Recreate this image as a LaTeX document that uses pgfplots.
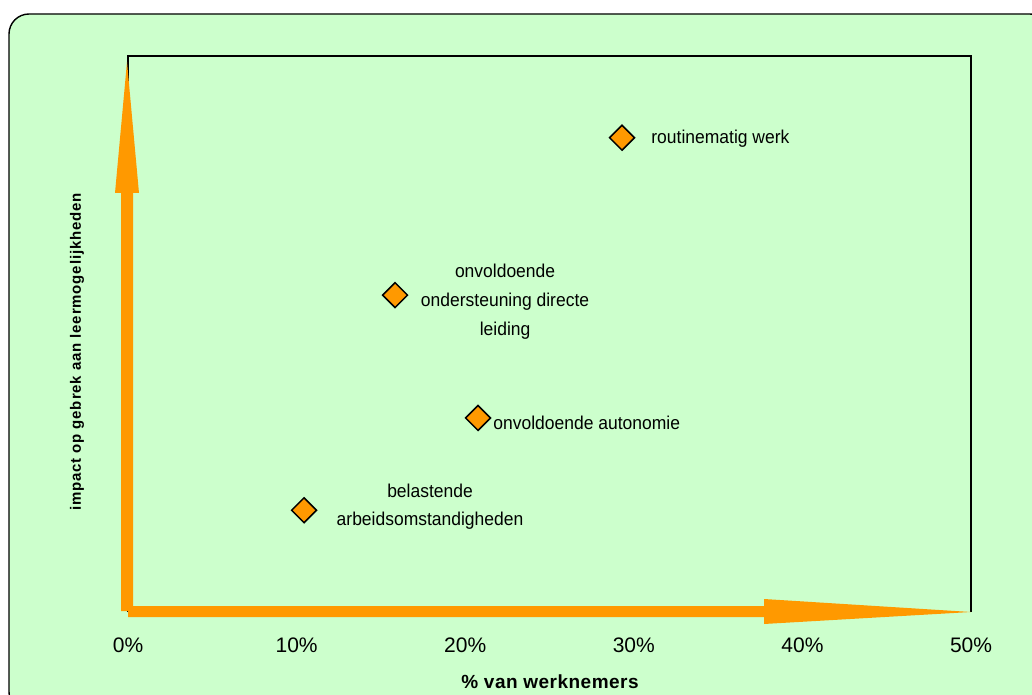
\documentclass[border=0pt]{standalone}
\usepackage{pgfplots}
\pgfplotsset{compat=1.18}
\usepackage{fontspec}
\setmainfont{Liberation Sans}
\newfontfamily\annfont[FakeStretch=0.94]{Liberation Sans}
\newfontfamily\ylabfont[LetterSpace=5.6]{Liberation Sans}
\newfontfamily\xlabfont[LetterSpace=2.5]{Liberation Sans}
\definecolor{bgreen}{HTML}{CCFFCC}
\definecolor{orng}{HTML}{FF9900}

\pgfplotstableread{
x y
29.30 8.53
15.84 5.70
20.76 3.49
10.44 1.83
}\pts

\begin{document}
\begin{tikzpicture}
\begin{scope}[x=0.5bp,y=-0.5bp]
\path[use as bounding box] (0,0) rectangle (1032,695);
\clip (0,0) rectangle (1032,695);
\filldraw[fill=bgreen, draw=black, line width=0.7bp, rounded corners=10bp] (9,14) rectangle (1050,712);
\end{scope}

\begin{axis}[
  at={(64bp,-306bp)}, anchor=south west,
  scale only axis, width=421.5bp, height=278bp,
  xmin=0, xmax=50, ymin=0, ymax=10,
  axis line style={draw=none},
  ytick=\empty,
  xtick={0,10,20,30,40,50},
  xticklabels={0\%,10\%,20\%,30\%,40\%,50\%},
  xtick style={draw=none},
  xticklabel style={anchor=base, yshift=-20bp, inner sep=0pt, font=\fontsize{10.5bp}{12bp}\selectfont},
  clip=false,
]
\addplot[only marks, mark=square*, mark size=4.4bp,
  mark options={rotate=45, fill=orng, draw=black, line width=0.75bp}] table[x=x,y=y] {\pts};

\node[anchor=base west, inner sep=0pt, xshift=14.5bp, yshift=-3bp, font=\annfont\fontsize{9.3bp}{11bp}\selectfont] at (axis cs:29.30,8.53) {routinematig werk};

\node[anchor=base, inner sep=0pt, xshift=55bp, yshift=9bp, font=\annfont\fontsize{9.3bp}{11bp}\selectfont] at (axis cs:15.84,5.70) {onvoldoende};
\node[anchor=base, inner sep=0pt, xshift=55bp, yshift=-5.5bp, font=\annfont\fontsize{9.3bp}{11bp}\selectfont] at (axis cs:15.84,5.70) {ondersteuning directe};
\node[anchor=base, inner sep=0pt, xshift=55bp, yshift=-20bp, font=\annfont\fontsize{9.3bp}{11bp}\selectfont] at (axis cs:15.84,5.70) {leiding};

\node[anchor=base west, inner sep=0pt, xshift=7.5bp, yshift=-6bp, font=\annfont\fontsize{9.3bp}{11bp}\selectfont] at (axis cs:20.76,3.49) {onvoldoende autonomie};

\node[anchor=base, inner sep=0pt, xshift=63bp, yshift=6.5bp, font=\annfont\fontsize{9.3bp}{11bp}\selectfont] at (axis cs:10.44,1.83) {belastende};
\node[anchor=base, inner sep=0pt, xshift=63bp, yshift=-7.5bp, font=\annfont\fontsize{9.3bp}{11bp}\selectfont] at (axis cs:10.44,1.83) {arbeidsomstandigheden};
\end{axis}

\begin{scope}[x=0.5bp,y=-0.5bp]
% frame (top and right visible)
\draw[line width=0.7bp, black] (128,612) -- (128,56) -- (971,56) -- (971,612);
% horizontal orange arrow
\fill[orng] (128,606) -- (764,606) -- (764,599) -- (971,612) -- (764,624) -- (764,617) -- (128,617) -- cycle;
% vertical orange arrow
\fill[orng] (121,611) -- (133,611) -- (133,193) -- (139,193) -- (127,62) -- (115,193) -- (121,193) -- cycle;

% axis titles
\node[anchor=base, inner sep=0pt, font=\xlabfont\bfseries\fontsize{9.5bp}{11bp}\selectfont] at (550,688) {\% van werknemers};
\node[rotate=90, anchor=base, inner sep=0pt, font=\ylabfont\bfseries\fontsize{7.5bp}{9bp}\selectfont] at (81,352) {impact op gebrek aan leermogelijkheden};
\end{scope}
\end{tikzpicture}
\end{document}
